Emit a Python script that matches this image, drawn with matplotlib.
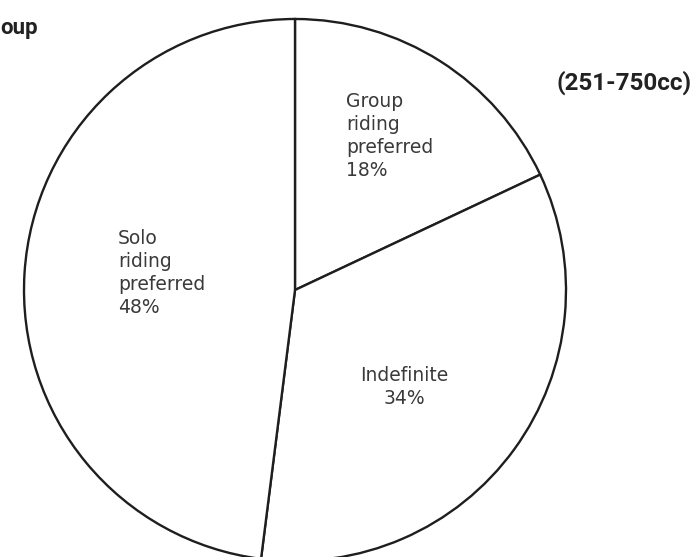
import matplotlib.pyplot as plt

# Данные
labels = ['Group\nriding\npreferred', 'Indefinite', 'Solo\nriding\npreferred']
sizes = [18, 34, 48]
title_left = 'oup'          # начало заголовка обрезано краем скана
title_right = '(251-750cc)'

plt.rcParams['font.family'] = ['DejaVu Sans']

W, H = 697, 557
fig = plt.figure(figsize=(W / 100, H / 100), dpi=100)
ax = fig.add_axes([0, 0, 1, 1])

# Круговая диаграмма (по часовой стрелке от вертикали)
ax.pie(sizes, center=(295, H - 290), radius=271, startangle=90, counterclock=False,
       colors=['white'] * 3, frame=True,
       wedgeprops={'edgecolor': '#1e1e1e', 'linewidth': 1.7})
ax.set_xlim(0, W)
ax.set_ylim(0, H)
ax.set_aspect('equal')
ax.axis('off')

# Подписи секторов
pos = [(346, H - 92, 'left'), (404, H - 366, 'center'), (118, H - 229, 'left')]
for (x, y, ha), lab, s in zip(pos, labels, sizes):
    ax.text(x, y, f'{lab}\n{s}%', ha=ha, va='top', fontsize=13.5, color='#3a3a3a',
            linespacing=1.27, multialignment=ha)

fig.text(0, 1 - 28 / H, title_left, ha='left', va='center', family='Roboto',
         fontsize=16, fontweight='bold', color='#222222')
fig.text(557 / W, 1 - 83 / H, title_right, ha='left', va='center', family='Roboto',
         fontsize=17.5, fontweight='bold', color='#222222')

fig.savefig('out.png', dpi=100, facecolor='white')
